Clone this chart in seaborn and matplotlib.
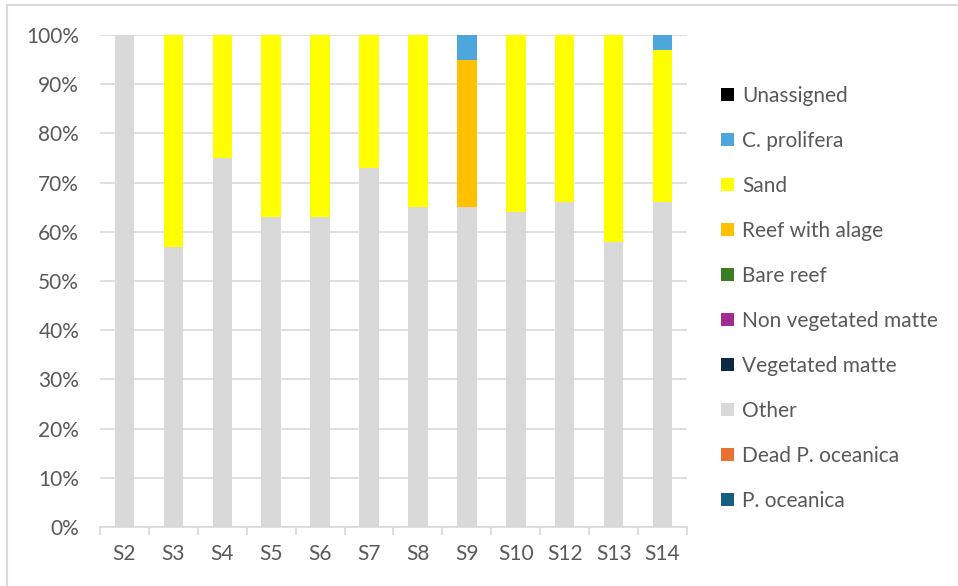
import matplotlib
matplotlib.use("Agg")
import matplotlib.pyplot as plt
from matplotlib.patches import Patch, Rectangle
from matplotlib.ticker import FixedLocator, FuncFormatter
import numpy as np
import seaborn as sns

# Sites along the x axis
sites = ["S2", "S3", "S4", "S5", "S6", "S7", "S8", "S9", "S10", "S12", "S13", "S14"]

# Cover per site (%), one list per class, bottom of the stack first
p_oceanica      = [0, 0, 0, 0, 0, 0, 0, 0, 0, 0, 0, 0]
dead_p_oceanica = [0, 0, 0, 0, 0, 0, 0, 0, 0, 0, 0, 0]
other           = [100, 57, 75, 63, 63, 73, 65, 65, 64, 66, 58, 66]
vegetated_matte = [0, 0, 0, 0, 0, 0, 0, 0, 0, 0, 0, 0]
non_veg_matte   = [0, 0, 0, 0, 0, 0, 0, 0, 0, 0, 0, 0]
bare_reef       = [0, 0, 0, 0, 0, 0, 0, 0, 0, 0, 0, 0]
reef_with_algae = [0, 0, 0, 0, 0, 0, 0, 30, 0, 0, 0, 0]
sand            = [0, 43, 25, 37, 37, 27, 35, 0, 36, 34, 42, 31]
c_prolifera     = [0, 0, 0, 0, 0, 0, 0, 5, 0, 0, 0, 3]
unassigned      = [0, 0, 0, 0, 0, 0, 0, 0, 0, 0, 0, 0]

series_names = ["P. oceanica", "Dead P. oceanica", "Other", "Vegetated matte",
                "Non vegetated matte", "Bare reef", "Reef with alage", "Sand",
                "C. prolifera", "Unassigned"]
series_values = [p_oceanica, dead_p_oceanica, other, vegetated_matte,
                 non_veg_matte, bare_reef, reef_with_algae, sand,
                 c_prolifera, unassigned]
series_colors = ["#156082", "#E97132", "#D9D9D9", "#0E2841", "#A02B93",
                 "#3B7D23", "#FFC000", "#FFFF00", "#4EA6DC", "#000000"]

sns.set_theme(style="white")
plt.rcParams["font.family"] = ["Lato", "DejaVu Sans"]
text_color = "#595959"
grid_color = "#D9D9D9"
fs = 15

fig = plt.figure(figsize=(9.58, 5.86), dpi=100)
ax = fig.add_axes([100 / 958, 59 / 586, 587 / 958, 492 / 586])

# Stacked bars: draw running totals from the top series down so each
# segment shows above the ones beneath it
cumulative = np.cumsum(np.array(series_values, dtype=float), axis=0)
for i in range(len(series_names) - 1, -1, -1):
    if np.all(np.array(series_values[i]) == 0):
        continue
    sns.barplot(x=sites, y=cumulative[i], color=series_colors[i],
                width=0.4, saturation=1, ax=ax, errorbar=None,
                linewidth=0, zorder=3)

ax.set_xlim(-0.5, len(sites) - 0.5)
ax.set_ylim(0, 100)
ax.set_yticks(np.arange(0, 101, 10))
ax.yaxis.set_major_formatter(FuncFormatter(lambda v, _: f"{int(v)}%"))
ax.grid(axis="y", color=grid_color, linewidth=1.2, zorder=0)
ax.grid(axis="x", visible=False)
ax.set_axisbelow(True)

for side in ["top", "right", "left"]:
    ax.spines[side].set_visible(False)
ax.spines["bottom"].set_color(grid_color)
ax.spines["bottom"].set_linewidth(1.2)

ax.tick_params(axis="y", length=0, pad=15, labelsize=fs, labelcolor=text_color)
ax.tick_params(axis="x", which="major", length=0, pad=12, labelsize=fs,
               labelcolor=text_color)
ax.xaxis.set_minor_locator(FixedLocator(np.arange(-0.5, len(sites), 1.0)))
ax.tick_params(axis="x", which="minor", length=6, width=1.2, color=grid_color,
               direction="out", bottom=True)
ax.set_xlabel("")
ax.set_ylabel("")

# Legend, top entry = top of the stack
handles = [Patch(facecolor=c, edgecolor="none") for c in series_colors[::-1]]
fig.legend(handles, series_names[::-1], loc="upper left",
           bbox_to_anchor=(721 / 958, 1 - 86 / 586), frameon=False,
           fontsize=fs, labelcolor=text_color, handlelength=0.6,
           handleheight=0.6, handletextpad=0.4, labelspacing=1.2,
           borderpad=0, borderaxespad=0)

# Chart area border
fig.add_artist(Rectangle((7 / 958, -0.05), 1.2, 1.05 - 5 / 586,
                         transform=fig.transFigure, fill=False,
                         edgecolor=grid_color, linewidth=1.5))

fig.savefig("out.png", dpi=100, facecolor="white")
